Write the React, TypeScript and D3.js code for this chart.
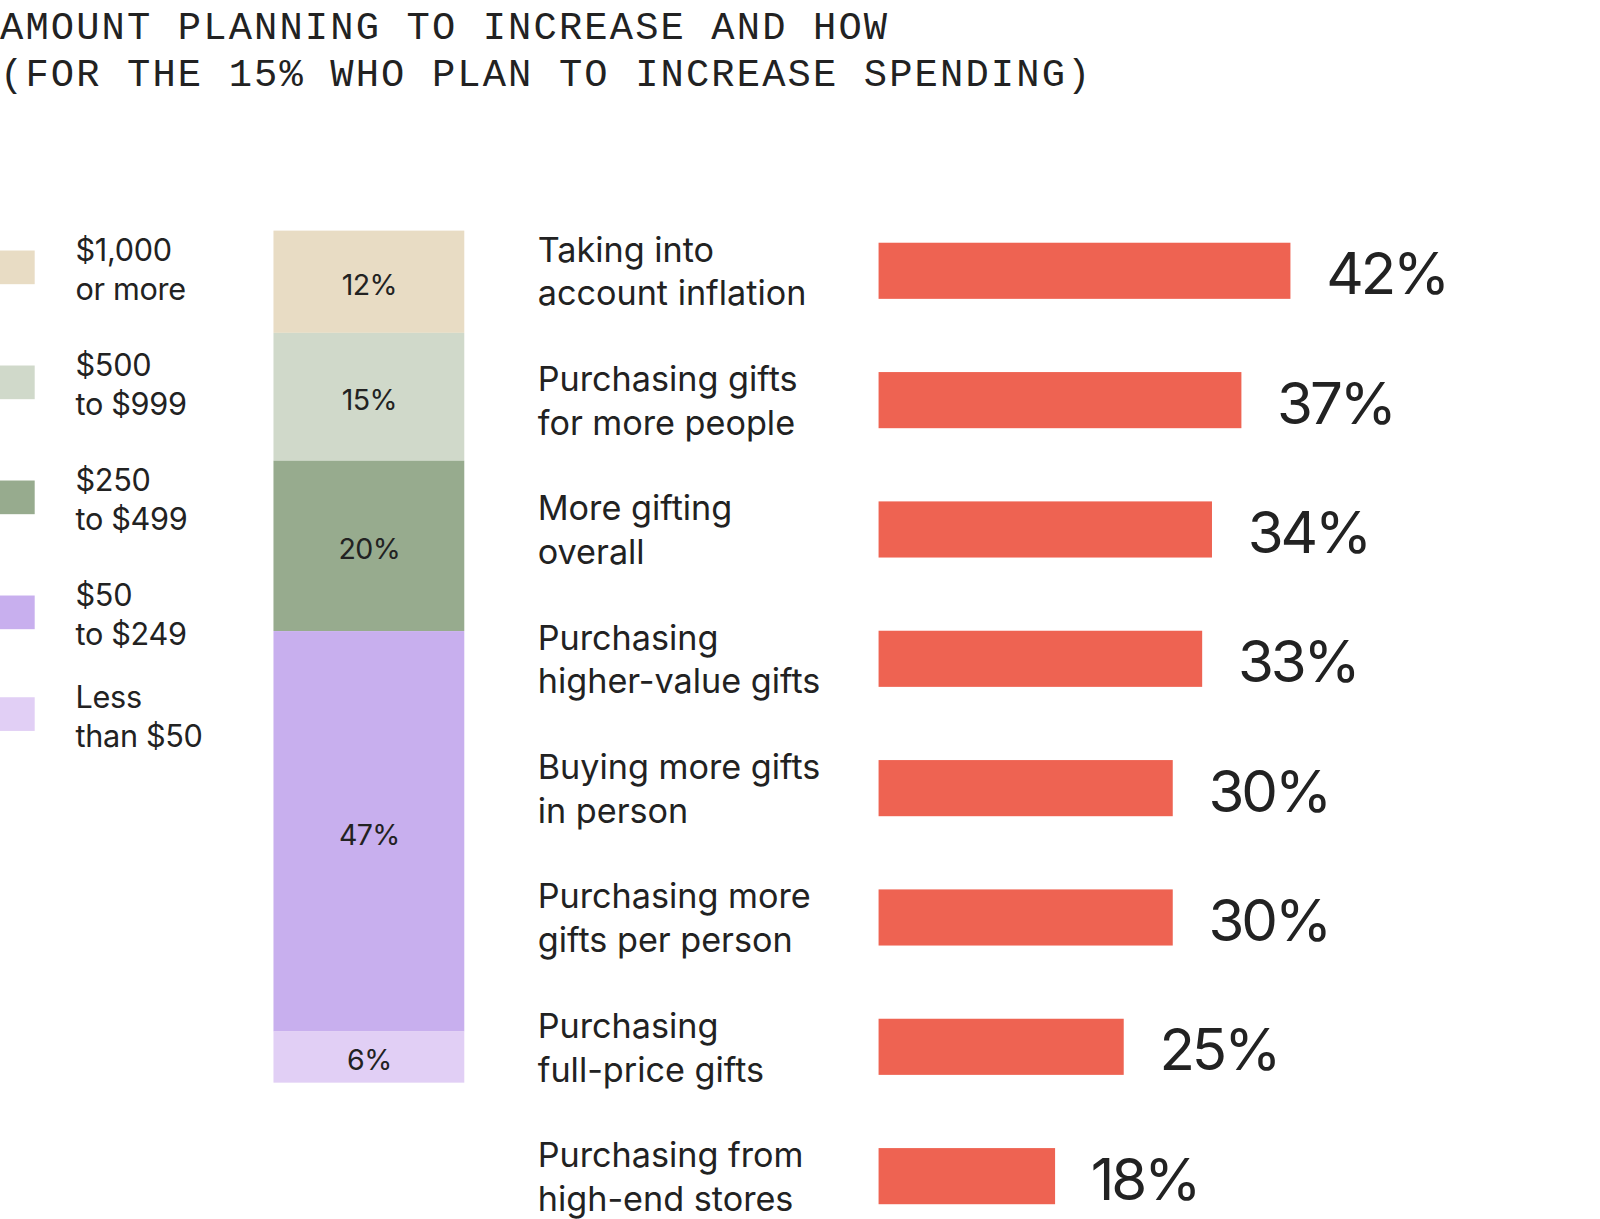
import React from "react"
import * as d3 from "d3"

const titleLines = [
  "AMOUNT PLANNING TO INCREASE AND HOW",
  "(FOR THE 15% WHO PLAN TO INCREASE SPENDING)"
]

// stacked column: how much more people plan to spend (top to bottom)
const amountLabels = [
  ["$1,000", "or more"],
  ["$500", "to $999"],
  ["$250", "to $499"],
  ["$50", "to $249"],
  ["Less", "than $50"]
]
const amountShares = [12, 15, 20, 47, 6]
const amountColors = ["#e8dcc4", "#d0d9ca", "#97ab8e", "#c8afee", "#e1cff5"]

// horizontal bars: how they plan to increase
const reasonLabels = [
  ["Taking into", "account inflation"],
  ["Purchasing gifts", "for more people"],
  ["More gifting", "overall"],
  ["Purchasing", "higher-value gifts"],
  ["Buying more gifts", "in person"],
  ["Purchasing more", "gifts per person"],
  ["Purchasing", "full-price gifts"],
  ["Purchasing from", "high-end stores"]
]
const reasonShares = [42, 37, 34, 33, 30, 30, 25, 18]

const width = 1600
const height = 1219
// layout is drawn in a slightly smaller box and scaled up to fill the page
const viewW = 1568
const viewH = (viewW * height) / width
const sans = "Inter, 'Noto Sans', sans-serif"
const ink = "#222"
const barColor = "#ee6352"

export default function App() {
  const stackY = d3.scaleLinear().domain([0, 100]).range([226, 1061])
  const stackStarts = [0, ...Array.from(d3.cumsum(amountShares))]

  const barX = d3.scaleLinear().domain([0, 100]).range([861, 1822])
  const barY = d3
    .scaleBand<number>()
    .domain(d3.range(reasonShares.length))
    .range([202, 1216])
    .paddingInner(0.566)
    .paddingOuter(0.283)

  const legendY = (i: number) => 262 + i * 112.7 - (i === 4 ? 13 : 0)

  return (
    <div style={{ position: "absolute", left: 0, top: 0 }}>
      <svg
        width={width}
        height={height}
        viewBox={`0 0 ${viewW} ${viewH}`}
        style={{ display: "block", background: "white" }}
      >
        <g fontFamily="'Liberation Mono', 'DejaVu Sans Mono', monospace" fontSize={38} fill={ink} letterSpacing={2.1}>
          {titleLines.map((t, i) => (
            <text key={i} x={0} y={38} dy={i * 46}>
              {t}
            </text>
          ))}
        </g>

        {/* legend */}
        <g fontFamily={sans} fontSize={30} fill={ink} letterSpacing={-0.3}>
          {amountLabels.map((lines, i) => {
            const c = legendY(i)
            return (
              <g key={i}>
                <rect x={-10} y={c - 16.5} width={44} height={33} fill={amountColors[i]} />
                <text x={74} y={c - 6}>{lines[0]}</text>
                <text x={74} y={c + 32}>{lines[1]}</text>
              </g>
            )
          })}
        </g>

        {/* stacked column */}
        <g>
          {amountShares.map((v, i) => {
            const y0 = stackY(stackStarts[i])
            const y1 = stackY(stackStarts[i] + v)
            return (
              <g key={i}>
                <rect x={268} y={y0} width={187} height={y1 - y0} fill={amountColors[i]} />
                <text
                  x={362}
                  y={(y0 + y1) / 2 + 13}
                  textAnchor="middle"
                  fontFamily={sans}
                  fontSize={28}
                  letterSpacing={-0.6}
                  fill={ink}
                >
                  {v}%
                </text>
              </g>
            )
          })}
        </g>

        {/* horizontal bars */}
        <g>
          {reasonShares.map((v, i) => {
            const top = barY(i) as number
            const c = top + barY.bandwidth() / 2
            return (
              <g key={i}>
                <text x={527} y={c - 9} fontFamily={sans} fontSize={33.5} fill={ink}>
                  {reasonLabels[i][0]}
                </text>
                <text x={527} y={c + 34} fontFamily={sans} fontSize={33.5} fill={ink}>
                  {reasonLabels[i][1]}
                </text>
                <rect x={barX(0)} y={top} width={barX(v) - barX(0)} height={barY.bandwidth()} fill={barColor} />
                <text
                  x={barX(v) + 35}
                  y={c + 23}
                  fontFamily={sans}
                  fontSize={57}
                  letterSpacing={-3}
                  fill={ink}
                >
                  {v}%
                </text>
              </g>
            )
          })}
        </g>
      </svg>
    </div>
  )
}
